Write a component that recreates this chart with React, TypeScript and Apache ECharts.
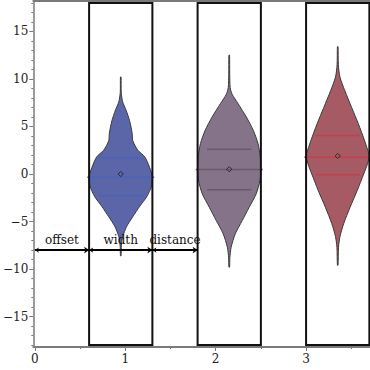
import React, { useEffect, useRef } from "react";
import * as echarts from "echarts";

// ---- axis ticks ----
const xMajorTicks = [0, 1, 2, 3];
const xMinorTicks = [0.5, 1.5, 2.5, 3.5];
const yMajorTicks = [-15, -10, -5, 0, 5, 10, 15];
const yMinorTicks = [-18, -17, -16, -14, -13, -12, -11, -9, -8, -7, -6, -4, -3, -2, -1, 1, 2, 3, 4, 6, 7, 8, 9, 11, 12, 13, 14, 16, 17, 18];

// ---- violins ----
const violinCenters = [0.95, 2.15, 3.35];
const violinColors = ["#5b66a8", "#857489", "#a65a64"];
const quartileColors = ["#4a62b8", "#6c5670", "#c2404e"];

const v1Y = [10.2, 8.6, 7.6, 6.7, 5.6, 4.3, 3.5, 2.5, 1.8, 0.7, -0.3, -1.3, -2.4, -3.4, -4.5, -5.5, -6.6, -7.5, -8.6];
const v1D = [0.01, 0.015, 0.06, 0.17, 0.28, 0.36, 0.38, 0.54, 0.76, 0.91, 1.0, 0.97, 0.82, 0.6, 0.38, 0.19, 0.06, 0.02, 0.01];

const v2Y = [12.5, 10.5, 9.1, 8.4, 7.4, 6.0, 4.6, 3.2, 1.8, 0.55, -0.7, -2.1, -3.5, -4.9, -6.3, -7.7, -8.8, -9.8];
const v2D = [0.01, 0.015, 0.03, 0.09, 0.28, 0.54, 0.76, 0.91, 0.98, 1.0, 0.97, 0.85, 0.63, 0.41, 0.19, 0.06, 0.02, 0.01];

const v3Y = [13.4, 11.5, 10.2, 8.8, 7.0, 5.3, 3.5, 2.8, 1.95, 1.07, 0.0, -1.7, -3.5, -5.2, -6.6, -7.7, -9.6];
const v3D = [0.01, 0.02, 0.07, 0.22, 0.44, 0.65, 0.85, 0.92, 1.0, 0.94, 0.82, 0.62, 0.39, 0.19, 0.07, 0.025, 0.01];

const violinYs = [v1Y, v2Y, v3Y];
const violinDs = [v1D, v2D, v3D];

const lowerQuartiles = [-2.26, -1.66, -0.08];
const medians = [-0.34, 0.47, 1.77];
const upperQuartiles = [1.7, 2.6, 4.05];
const means = [0.0, 0.5, 1.9];

// ---- boxes ----
const boxLeft = [0.6, 1.8, 3.0];
const boxRight = [1.3, 2.5, 3.7];
const boxBottom = [-18, -18, -18];
const boxTop = [18, 18, 18];

// ---- annotation ----
const annotationLabels = ["offset", "width", "distance"];
const annotationStart = [0, 0.6, 1.3];
const annotationEnd = [0.6, 1.3, 1.8];
const annotationY = [-8, -8, -8];

const HALF_WIDTH = 0.35;
const FONT = "DejaVu Serif";
const AXIS_COLOR = "#7a7a7a";
const X_MIN = -0.017;
const X_MAX = 3.707;
const Y_MIN = -18.2;
const Y_MAX = 18.2;

const fmt = (v: number) => (v < 0 ? "\u2212" + Math.abs(v) : String(v));

export default function App() {
  const ref = useRef<HTMLDivElement>(null);
  useEffect(() => {
    if (!ref.current) return;
    const chart = echarts.init(ref.current, undefined, { renderer: "svg" });

    const idx = violinCenters.map((_, i) => [i]);

    const option: any = {
      animation: false,
      backgroundColor: "#ffffff",
      grid: { left: 33, top: 1, right: 0, bottom: 23 },
      xAxis: [
        {
          type: "value", min: X_MIN, max: X_MAX, position: "bottom",
          axisLine: { show: true, onZero: false, lineStyle: { color: AXIS_COLOR, width: 2 } },
          axisTick: { show: true, customValues: xMajorTicks, length: 4, lineStyle: { color: AXIS_COLOR, width: 1 } },
          axisLabel: { customValues: xMajorTicks, formatter: fmt, fontFamily: FONT, fontSize: 12, color: "#222", margin: 6 },
          splitLine: { show: false },
        },
        {
          type: "value", min: X_MIN, max: X_MAX, position: "bottom",
          axisLine: { show: false, onZero: false },
          axisTick: { show: true, customValues: xMinorTicks, length: 2, lineStyle: { color: AXIS_COLOR, width: 1 } },
          axisLabel: { show: false },
          splitLine: { show: false },
        },
        {
          type: "value", min: X_MIN, max: X_MAX, position: "top",
          axisLine: { show: true, onZero: false, lineStyle: { color: AXIS_COLOR, width: 2 } },
          axisTick: { show: false },
          axisLabel: { show: false },
          splitLine: { show: false },
        },
      ],
      yAxis: [
        {
          type: "value", min: Y_MIN, max: Y_MAX, position: "left",
          axisLine: { show: true, onZero: false, lineStyle: { color: AXIS_COLOR, width: 1.5 } },
          axisTick: { show: true, customValues: yMajorTicks, length: 4, lineStyle: { color: AXIS_COLOR, width: 1 } },
          axisLabel: { customValues: yMajorTicks, formatter: fmt, fontFamily: FONT, fontSize: 12, color: "#222", margin: 5 },
          splitLine: { show: false },
        },
        {
          type: "value", min: Y_MIN, max: Y_MAX, position: "left",
          axisLine: { show: false, onZero: false },
          axisTick: { show: true, customValues: yMinorTicks, length: 2, lineStyle: { color: AXIS_COLOR, width: 1 } },
          axisLabel: { show: false },
          splitLine: { show: false },
        },
      ],
      series: [
        {
          type: "custom",
          xAxisIndex: 0, yAxisIndex: 0,
          data: idx,
          renderItem: (params: any, api: any) => {
            const i = api.value(0);
            const c = violinCenters[i];
            const ys = violinYs[i];
            const ds = violinDs[i];
            const right = ys.map((y, k) => api.coord([c + ds[k] * HALF_WIDTH, y]));
            const left = ys.map((y, k) => api.coord([c - ds[k] * HALF_WIDTH, y])).reverse();
            const pts = right.concat(left);
            const children: any[] = [
              {
                type: "polygon",
                shape: { points: pts, smooth: 0.25 },
                style: { fill: violinColors[i], stroke: "#3a3a3a", lineWidth: 1 },
              },
            ];
            const qLine = (y: number, hw: number) => {
              const a = api.coord([c - hw, y]);
              const b = api.coord([c + hw, y]);
              return {
                type: "line",
                shape: { x1: a[0], y1: a[1], x2: b[0], y2: b[1] },
                style: { stroke: quartileColors[i], lineWidth: 1.5 },
              };
            };
            children.push(qLine(lowerQuartiles[i], HALF_WIDTH * 0.7));
            children.push(qLine(upperQuartiles[i], HALF_WIDTH * 0.7));
            children.push(qLine(medians[i], 0.37));
            const m = api.coord([c, means[i]]);
            const r = 2.6;
            children.push({
              type: "polygon",
              shape: { points: [[m[0], m[1] - r], [m[0] + r, m[1]], [m[0], m[1] + r], [m[0] - r, m[1]]] },
              style: { fill: "none", stroke: "#2a2a2a", lineWidth: 1 },
            });
            return { type: "group", children };
          },
        },
        {
          type: "custom",
          xAxisIndex: 0, yAxisIndex: 0,
          data: idx,
          renderItem: (params: any, api: any) => {
            const i = api.value(0);
            const a = api.coord([boxLeft[i], boxTop[i]]);
            const b = api.coord([boxRight[i], boxBottom[i]]);
            return {
              type: "rect",
              shape: { x: a[0], y: a[1], width: b[0] - a[0], height: b[1] - a[1] },
              style: { fill: "none", stroke: "#111", lineWidth: 2 },
            };
          },
        },
        {
          type: "lines",
          coordinateSystem: "cartesian2d",
          xAxisIndex: 0, yAxisIndex: 0,
          color: "#000",
          symbol: ["arrow", "arrow"],
          symbolSize: [4, 5],
          itemStyle: { color: "#000" },
          lineStyle: { color: "#000", width: 2, opacity: 1, curveness: 0 },
          data: annotationStart.map((s, i) => ({
            coords: [[s, annotationY[i]], [annotationEnd[i], annotationY[i]]],
          })),
        },
        {
          type: "custom",
          xAxisIndex: 0, yAxisIndex: 0,
          data: idx,
          renderItem: (params: any, api: any) => {
            const i = api.value(0);
            const p = api.coord([(annotationStart[i] + annotationEnd[i]) / 2, annotationY[i]]);
            return {
              type: "text",
              x: p[0],
              y: p[1] - 4,
              style: {
                text: annotationLabels[i],
                fontFamily: FONT,
                fontSize: 12,
                fill: "#111",
                align: "center",
                verticalAlign: "bottom",
              },
            };
          },
        },
      ],
    };
    chart.setOption(option);
    return () => chart.dispose();
  }, []);
  return (
    <div
      ref={ref}
      style={{ position: "fixed", left: 0, top: 0, width: 370, height: 370 }}
    />
  );
}
